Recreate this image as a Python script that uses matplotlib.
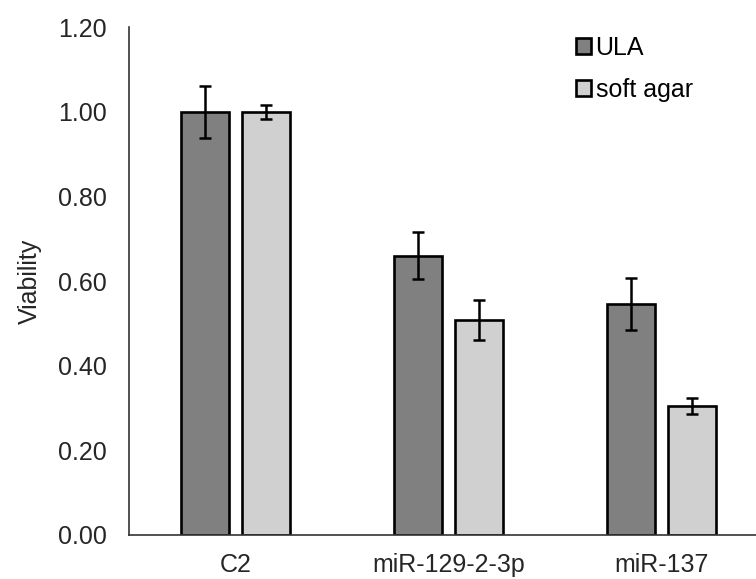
import numpy as np
import matplotlib.pyplot as plt

plt.rcParams['font.family'] = ['Liberation Sans', 'DejaVu Sans']

categories = ['C2', 'miR-129-2-3p', 'miR-137']
ula = [1.00, 0.66, 0.546]
ula_err = [0.062, 0.056, 0.062]
soft_agar = [1.00, 0.508, 0.305]
soft_agar_err = [0.016, 0.048, 0.019]

x = np.arange(len(categories))
w = 0.225
off = 0.143

fig = plt.figure(figsize=(7.56, 5.79), dpi=100)
ax = fig.add_axes([0.171, 0.076, 0.845, 0.877])

err_kw = dict(ecolor='black', elinewidth=1.8, capsize=4.5, capthick=1.8)
ax.bar(x - off, ula, w, yerr=ula_err, color='#808080', edgecolor='black',
       linewidth=1.9, label='ULA', error_kw=err_kw)
ax.bar(x + off, soft_agar, w, yerr=soft_agar_err, color='#d0d0d0', edgecolor='black',
       linewidth=1.9, label='soft agar', error_kw=err_kw)

ax.set_xlim(-0.5, 2.5)
ax.set_ylim(0, 1.2)
yt = np.arange(0, 1.21, 0.2)
ax.set_yticks(yt)
ax.set_yticklabels([f'{v:.2f}' for v in yt])
ax.set_xticks(x)
ax.set_xticklabels(categories)
ax.tick_params(axis='both', length=0, labelsize=18, colors='#262626')
ax.tick_params(axis='y', pad=16)
ax.tick_params(axis='x', pad=13)
ax.set_ylabel('Viability', fontsize=18, color='#262626', labelpad=12)

ax.spines['top'].set_visible(False)
ax.spines['right'].set_visible(False)
ax.spines['left'].set_color('#333333')
ax.spines['bottom'].set_color('#333333')
ax.spines['left'].set_linewidth(1.2)
ax.spines['bottom'].set_linewidth(1.2)

ax.legend(loc='upper left', bbox_to_anchor=(576 / 756, 1 - 36 / 579),
          bbox_transform=fig.transFigure, frameon=False, borderpad=0,
          borderaxespad=0, fontsize=18, handlelength=0.6, handleheight=0.6,
          handletextpad=0.18, labelspacing=0.72)

fig.savefig('out.png', dpi=100)
